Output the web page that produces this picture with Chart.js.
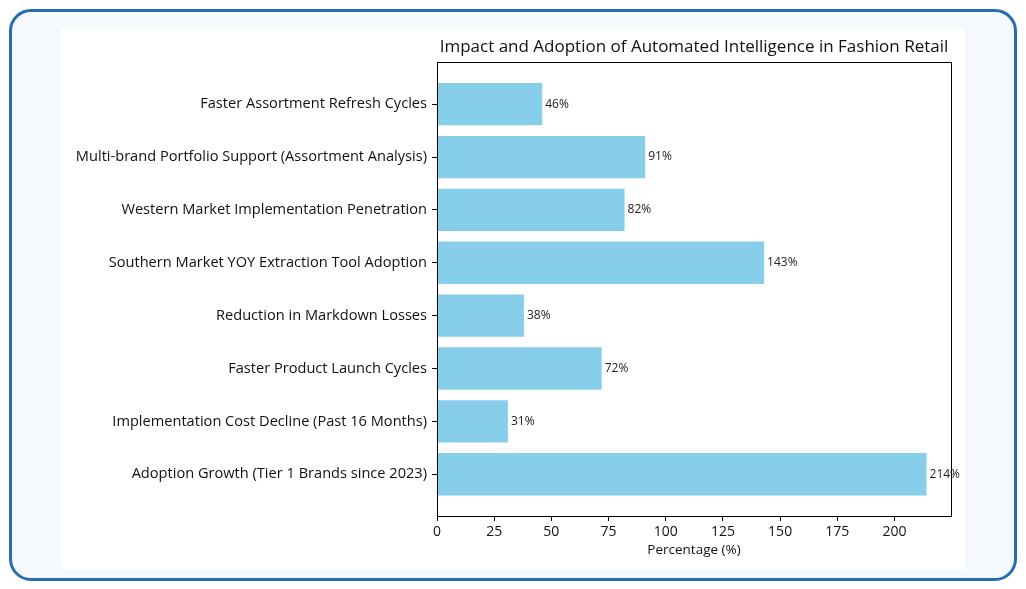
<!DOCTYPE html>
<html>
<head>
<meta charset="utf-8">
<script src="https://cdn.jsdelivr.net/npm/chart.js@4.4.1/dist/chart.umd.min.js"></script>
<style>
    html, body { margin: 0; padding: 0; background: #fff; }
    body { width: 1026px; height: 589px; position: relative; overflow: hidden; }
    .frame {
        position: absolute; left: 9px; top: 9px; width: 1002px; height: 566px;
        border: 3px solid #2a6cb4; border-radius: 22px; background: #f5f8fc;
    }
    .panel { position: absolute; left: 61px; top: 29px; width: 904px; height: 541px; background: #fff; }
</style>
</head>
<body>
<div class="frame"></div>
<div class="panel"><canvas id="chart" width="904" height="541"></canvas></div>
<script>
// Datos (de arriba a abajo)
const categories = [
    "Faster Assortment Refresh Cycles",
    "Multi-brand Portfolio Support (Assortment Analysis)",
    "Western Market Implementation Penetration",
    "Southern Market YOY Extraction Tool Adoption",
    "Reduction in Markdown Losses",
    "Faster Product Launch Cycles",
    "Implementation Cost Decline (Past 16 Months)",
    "Adoption Growth (Tier 1 Brands since 2023)"
];
const values = [46, 91, 82, 143, 38, 72, 31, 214];
const xTicks = [0, 25, 50, 75, 100, 125, 150, 175, 200];

const FONT = "'Open Sans', sans-serif";

// marco completo alrededor del área
const framePlugin = {
    id: "frame",
    afterDraw(chart) {
        const a = chart.chartArea, ctx = chart.ctx;
        ctx.save();
        ctx.strokeStyle = "#000";
        ctx.lineWidth = 1;
        ctx.strokeRect(Math.round(a.left) + 0.5, Math.round(a.top) + 0.5,
            Math.round(a.right - a.left), Math.round(a.bottom - a.top));
        ctx.restore();
    }
};

// etiquetas de valor al final de cada barra
const valueLabels = {
    id: "valueLabels",
    afterDatasetsDraw(chart) {
        const ctx = chart.ctx;
        const meta = chart.getDatasetMeta(0);
        ctx.save();
        ctx.font = "12px " + FONT;
        ctx.fillStyle = "#222";
        ctx.textAlign = "left";
        ctx.textBaseline = "middle";
        meta.data.forEach((bar, i) => {
            ctx.fillText(values[i] + "%", bar.x + 3, bar.y);
        });
        ctx.restore();
    }
};

new Chart(document.getElementById("chart"), {
    type: "bar",
    data: {
        datasets: [{
            data: values.map((v, i) => ({ x: v, y: i })),
            backgroundColor: "#87ceeb",
            borderWidth: 0,
            barPercentage: 0.8,
            categoryPercentage: 1
        }]
    },
    options: {
        indexAxis: "y",
        responsive: false,
        animation: false,
        layout: { padding: { left: 0, right: 14, top: 0, bottom: 8 } },
        plugins: {
            legend: { display: false },
            tooltip: { enabled: false },
            title: {
                display: true,
                fullSize: false,
                text: "Impact and Adoption of Automated Intelligence in Fashion Retail",
                color: "#111",
                font: { family: FONT, size: 17, weight: "normal" },
                padding: { top: 8, bottom: 5 }
            }
        },
        scales: {
            x: {
                type: "linear",
                min: 0,
                max: 224.7,
                afterBuildTicks: s => { s.ticks = xTicks.map(v => ({ value: v })); },
                afterFit: s => { s.height = 46; },
                grid: { drawOnChartArea: false, offset: false, tickLength: 5, color: "#000" },
                border: { display: true, color: "#000" },
                ticks: { color: "#111", padding: 3, font: { family: FONT, size: 14 } },
                title: {
                    display: true, text: "Percentage (%)", color: "#111",
                    font: { family: FONT, size: 13.5 }, padding: { top: 2, bottom: 4 }
                }
            },
            y: {
                type: "linear",
                reverse: true,
                offset: false,
                min: -0.79,
                max: 7.79,
                afterBuildTicks: s => { s.ticks = categories.map((c, i) => ({ value: i })); },
                afterFit: s => { s.width = 376; },
                grid: { drawOnChartArea: false, offset: false, tickLength: 5, color: "#000" },
                border: { display: true, color: "#000" },
                ticks: {
                    color: "#111", padding: 5, font: { family: FONT, size: 14.6 },
                    callback: v => categories[v]
                }
            }
        }
    },
    plugins: [framePlugin, valueLabels]
});
</script>
</body>
</html>
